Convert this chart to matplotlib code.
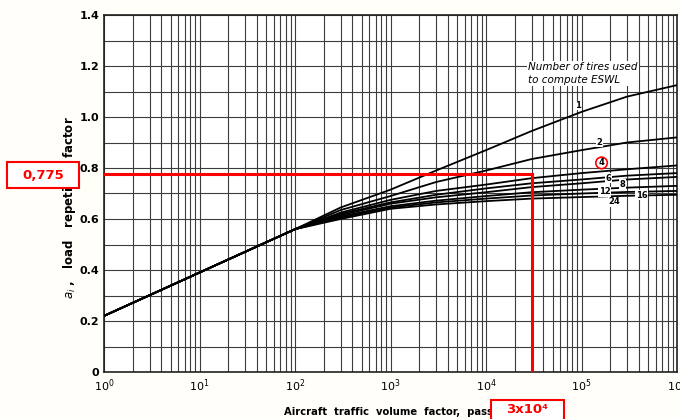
import numpy as np
import matplotlib.pyplot as plt
from matplotlib.patches import Rectangle

# aircraft traffic volume factor (passes)
passes = [1, 10, 100, 300, 1e3, 3e3, 1e4, 3e4, 1e5, 3e5, 1e6]

# load repetition factor a_i, one list per number of tires used
a_1 = [0.22, 0.39, 0.56, 0.645, 0.715, 0.79, 0.87, 0.945, 1.02, 1.08, 1.125]
a_2 = [0.22, 0.39, 0.56, 0.635, 0.69, 0.745, 0.79, 0.835, 0.87, 0.90, 0.92]
a_4 = [0.22, 0.39, 0.56, 0.625, 0.675, 0.71, 0.735, 0.76, 0.78, 0.795, 0.81]
a_6 = [0.22, 0.39, 0.56, 0.62, 0.665, 0.695, 0.72, 0.74, 0.755, 0.77, 0.78]
a_8 = [0.22, 0.39, 0.56, 0.615, 0.66, 0.685, 0.705, 0.725, 0.74, 0.755, 0.765]
a_12 = [0.22, 0.39, 0.56, 0.61, 0.65, 0.672, 0.69, 0.705, 0.715, 0.723, 0.73]
a_16 = [0.22, 0.39, 0.56, 0.605, 0.645, 0.665, 0.68, 0.692, 0.70, 0.706, 0.71]
a_24 = [0.22, 0.39, 0.56, 0.60, 0.64, 0.657, 0.67, 0.68, 0.686, 0.691, 0.695]

curves = [a_1, a_2, a_4, a_6, a_8, a_12, a_16, a_24]
tire_labels = ['1', '2', '4', '6', '8', '12', '16', '24']

# worked example
read_passes = 3e4
read_factor = 0.775

fig = plt.figure(figsize=(6.8, 4.19), dpi=100)
fig.patch.set_facecolor('#fffef8')
ax = fig.add_axes([104/680, 47/419, 573/680, 357/419])

for ys in curves:
    ax.plot(passes, ys, color='black', lw=1.3, zorder=3)

ax.set_xscale('log')
ax.set_xlim(1, 1e6)
ax.set_ylim(0, 1.4)
ax.set_xticks([10**i for i in range(7)])
ax.set_xticklabels(['$10^{%d}$' % i for i in range(7)])
ax.set_yticks(np.arange(0, 1.41, 0.2))
ax.set_yticklabels(['0', '0.2', '0.4', '0.6', '0.8', '1.0', '1.2', '1.4'])
ax.set_yticks(np.arange(0, 1.41, 0.1), minor=True)
ax.tick_params(which='both', length=0, labelsize=8)
ax.tick_params(axis='x', pad=4)
for lab in ax.get_xticklabels() + ax.get_yticklabels():
    lab.set_fontweight('bold')
ax.grid(True, which='both', color='#3c3c3c', lw=0.8)
for s in ax.spines.values():
    s.set_color('#222222')
    s.set_linewidth(1.2)

# tire count labels
label_pos = {'1': (10**4.96, 1.045), '2': (10**5.19, 0.90), '4': (10**5.21, 0.82),
             '6': (10**5.28, 0.76), '8': (10**5.43, 0.737), '12': (10**5.24, 0.706),
             '16': (10**5.63, 0.694), '24': (10**5.34, 0.667)}
for lab in tire_labels:
    x, y = label_pos[lab]
    bb = dict(fc='white', ec='none', pad=0.3)
    if lab == '4':
        bb = dict(boxstyle='circle,pad=0.15', fc='white', ec='red', lw=1.2)
    ax.text(x, y, lab, fontsize=6, fontweight='bold', ha='center', va='center',
            bbox=bb, zorder=4)

ax.text(10**4.44, 1.215, 'Number of tires used\nto compute ESWL', fontsize=7.5,
        style='italic', ha='left', va='top', linespacing=1.3,
        bbox=dict(fc='white', ec='none', pad=1), zorder=4)

# red reading lines
ax.plot([1, read_passes], [read_factor, read_factor], color='red', lw=2.2, zorder=5)
ax.plot([read_passes, read_passes], [0, read_factor], color='red', lw=2.2, zorder=5)

# axis titles
fig.text(70/680, 1 - 116/419, '$a_i$ ,   load   repetition factor', rotation=90,
         fontsize=8.5, fontweight='bold', ha='center', va='top', zorder=2)
fig.text(284/680, 1 - 412/419, 'Aircraft  traffic  volume  factor,  passes',
         fontsize=7.2, fontweight='bold', ha='left', va='center', zorder=2)

# red callout boxes
fig.patches.append(Rectangle((7/680, 1 - 188/419), 72/680, 26/419,
                             transform=fig.transFigure, fc='white', ec='red',
                             lw=1.5, zorder=4))
fig.text(43/680, 1 - 175/419, '0,775', color='red', fontsize=9.5,
         fontweight='bold', ha='center', va='center', zorder=5)
fig.patches.append(Rectangle((491/680, 1 - 430/419), 73/680, 30/419,
                             transform=fig.transFigure, fc='white', ec='red',
                             lw=1.5, zorder=4))
fig.text(527/680, 1 - 409/419, '3x10⁴', color='red', fontsize=9.5,
         fontweight='bold', ha='center', va='center', zorder=5)

fig.savefig('out.png', dpi=100, facecolor=fig.get_facecolor())
